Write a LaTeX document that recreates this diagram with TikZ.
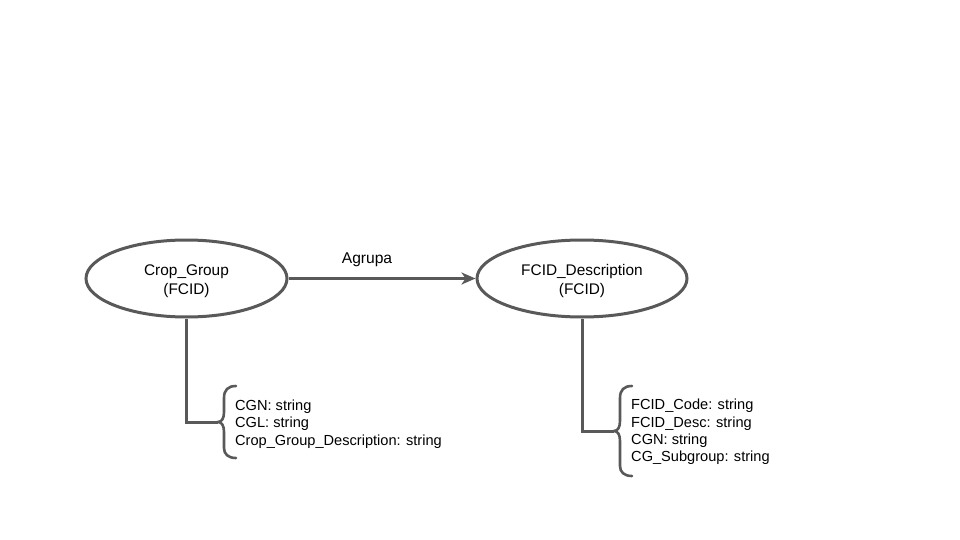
\documentclass[tikz,border=0pt]{standalone}
\usepackage{fontspec}
\setmainfont{Liberation Sans}
\usetikzlibrary{shapes.geometric,arrows.meta}
\definecolor{ink}{HTML}{595959}
\tikzset{
  entity/.style={ellipse, draw=ink, line width=3pt, inner sep=0pt, align=center,
    font=\fontsize{15.4}{19}\selectfont, text=black},
  link/.style={draw=ink, line width=3pt},
  attrs/.style={anchor=west, align=left, inner sep=0pt, font=\fontsize{14.6}{17.3}\selectfont, text=black},
}
\begin{document}
\begin{tikzpicture}[x=1pt,y=-1pt]
\useasboundingbox (0,0) rectangle (960,540);

% entities
\node[entity, minimum width=201pt, minimum height=77pt] (cg) at (186.5,278.5) {};
\node[entity, minimum width=210pt, minimum height=77pt] (fd) at (582,278.5) {};
\node[align=center, font=\fontsize{15.4}{19}\selectfont] (cglabel) at (186.5,281) {Crop\_Group\\(FCID)};
\node[align=center, font=\fontsize{15.4}{19}\selectfont] (fdlabel) at (582,281) {FCID\_Description\\(FCID)};

% relation
\draw[link, -{Stealth[length=14pt,width=12pt,inset=4pt]}] (cg.east) -- (fd.west);
\node[font=\fontsize{15.6}{17}\selectfont, text=black] (rel) at (367,260) {Agrupa};

% attribute braces
\coordinate (cgtip) at (218,422);
\coordinate (fdtip) at (614,431);
\draw[link, line width=2.6pt, line cap=round]
  (236,386) .. controls (228,386) and (224,390) .. (224,398) -- (224,412)
  .. controls (224,418) and (222,422) .. (cgtip)
  .. controls (222,422) and (224,426) .. (224,432) -- (224,448)
  .. controls (224,454) and (228,458) .. (236,458);
\draw[link, line width=2.6pt, line cap=round]
  (632,386) .. controls (624,386) and (620,390) .. (620,398) -- (620,421)
  .. controls (620,427) and (618,431) .. (fdtip)
  .. controls (618,431) and (620,435) .. (620,441) -- (620,466)
  .. controls (620,472) and (624,476) .. (632,476);

% connectors to the braces
\draw[link] (cg.south) |- (cgtip);
\draw[link] (fd.south) |- (fdtip);

% attribute lists
\node[attrs] (cgattr) at (235,424) {CGN: string\\CGL: string\\Crop\_Group\_Description: string};
\node[attrs] (fdattr) at (631,432) {FCID\_Code: string\\FCID\_Desc: string\\CGN: string\\CG\_Subgroup: string};
\end{tikzpicture}
\end{document}
